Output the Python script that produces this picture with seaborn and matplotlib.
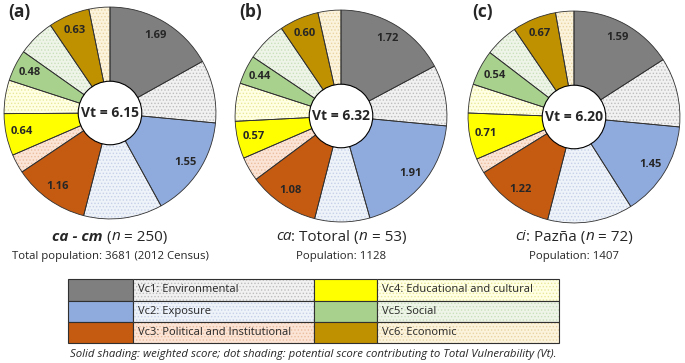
import numpy as np
import matplotlib
matplotlib.use("Agg")
import matplotlib.pyplot as plt
from matplotlib.patches import Rectangle, Circle
import seaborn as sns

# component names
components = ["Vc1: Environmental", "Vc2: Exposure", "Vc3: Political and Institutional",
              "Vc4: Educational and cultural", "Vc5: Social", "Vc6: Economic"]
# potential (max) score of each component, sums to 10
potential = [2.65, 2.75, 1.45, 1.15, 1.05, 0.95]
# weighted scores per community
scores_a = [1.69, 1.55, 1.16, 0.64, 0.48, 0.63]
scores_b = [1.72, 1.91, 1.08, 0.57, 0.44, 0.60]
scores_c = [1.59, 1.45, 1.22, 0.71, 0.54, 0.67]
vt = ["6.15", "6.32", "6.20"]
panel_tags = ["(a)", "(b)", "(c)"]
populations = ["Total population: 3681 (2012 Census)", "Population: 1128", "Population: 1407"]

solid_cols = sns.color_palette(["#7f7f7f", "#8faadc", "#c55a11", "#ffff00", "#a9d18e", "#bf9000"])
light_cols = ["#f1f1f1", "#eef2f9", "#fbe4d5", "#ffffe3", "#eef5e8", "#fcf3dc"]
dot_cols = ["#bdbdbd", "#c6d2e8", "#ebbd9f", "#e8e89c", "#c9dfba", "#e8d5a2"]

sns.set_style("white")
plt.rcParams["font.family"] = ["Open Sans", "DejaVu Sans"]
plt.rcParams["hatch.linewidth"] = 0.6

W, H = 685, 363
fig = plt.figure(figsize=(W / 100, H / 100), dpi=100)
base = fig.add_axes([0, 0, 1, 1])
base.set_xlim(0, W)
base.set_ylim(H, 0)
base.axis("off")

centers = [(110, 113), (341, 116), (574, 117)]
R = 107
edge = "#303030"


def draw_pie(cx, cy, scores, vt_txt):
    ax = fig.add_axes([(cx - R) / W, 1 - (cy + R) / H, 2 * R / W, 2 * R / H])
    vals, fcs, ecs, hatches = [], [], [], []
    for i in range(6):
        vals += [scores[i], potential[i] - scores[i]]
        fcs += [solid_cols[i], light_cols[i]]
        ecs += [solid_cols[i], dot_cols[i]]
        hatches += [None, "....."]
    wedges, _ = ax.pie(vals, colors=fcs, startangle=90, counterclock=False,
                       radius=1, wedgeprops=dict(linewidth=0))
    for w, ec, h in zip(wedges, ecs, hatches):
        if h:
            w.set_edgecolor(ec)
            w.set_hatch(h)
            w.set_linewidth(0)
    ax.pie(vals, startangle=90, counterclock=False, radius=1,
           wedgeprops=dict(fill=False, edgecolor=edge, linewidth=0.6))
    for i in range(6):
        w = wedges[2 * i]
        mid = np.deg2rad((w.theta1 + w.theta2) / 2)
        ax.text(0.85 * np.cos(mid), 0.85 * np.sin(mid), f"{scores[i]:.2f}",
                ha="center", va="center", fontsize=8, fontweight="bold")
    ax.add_patch(Circle((0, 0), 0.3, facecolor="white", edgecolor="black", linewidth=0.8, zorder=5))
    ax.text(0, 0, f"Vt = {vt_txt}", ha="center", va="center", fontsize=10,
            fontweight="bold", zorder=6)
    ax.set_xlim(-1.01, 1.01)
    ax.set_ylim(-1.01, 1.01)


for (cx, cy), sc, v in zip(centers, [scores_a, scores_b, scores_c], vt):
    draw_pie(cx, cy, sc, v)

for (cx, cy), tag in zip(centers, panel_tags):
    base.text(cx - 102, 12, tag, ha="left", va="center", fontsize=12.5, fontweight="bold")

renderer = fig.canvas.get_renderer()


def runs(xc, y, parts, size):
    # draw a line made of differently styled pieces, centred on xc
    texts = []
    for s, style, weight in parts:
        t = base.text(0, y, s, fontsize=size, style=style, fontweight=weight,
                      ha="left", va="center")
        texts.append(t)
    widths = [t.get_window_extent(renderer).width for t in texts]
    x = xc - sum(widths) / 2
    for t, w in zip(texts, widths):
        t.set_x(x)
        x += w


subtitles = [
    [("ca - cm", "italic", "bold"), (" (", "normal", "normal"), ("n", "italic", "normal"), (" = 250)", "normal", "normal")],
    [("ca", "italic", "normal"), (": Totoral (", "normal", "normal"), ("n", "italic", "normal"), (" = 53)", "normal", "normal")],
    [("ci", "italic", "normal"), (": Pazña (", "normal", "normal"), ("n", "italic", "normal"), (" = 72)", "normal", "normal")],
]
for (cx, cy), sub, pop in zip(centers, subtitles, populations):
    runs(cx, 237, sub, 11)
    base.text(cx, 256, pop, ha="center", va="center", fontsize=8.2)

# legend table
rows_y = [279, 300.5, 322, 343]
cols_x = [(68, 133, 314), (314, 377, 559)]
for k in range(6):
    c = k // 3
    r = k % 3
    x0, x1, x2 = cols_x[c]
    y0, y1 = rows_y[r], rows_y[r + 1]
    base.add_patch(Rectangle((x0, y0), x1 - x0, y1 - y0, facecolor=solid_cols[k],
                             edgecolor=edge, linewidth=0.8))
    base.add_patch(Rectangle((x1, y0), x2 - x1, y1 - y0, facecolor=light_cols[k],
                             edgecolor=dot_cols[k], hatch=".....", linewidth=0))
    base.add_patch(Rectangle((x1, y0), x2 - x1, y1 - y0, fill=False,
                             edgecolor=edge, linewidth=0.8))
    base.text(x1 + 5, (y0 + y1) / 2, components[k], ha="left", va="center", fontsize=8)

base.text(313, 354, "Solid shading: weighted score; dot shading: potential score contributing to Total Vulnerability (Vt).",
          ha="center", va="center", fontsize=8.2, style="italic")

fig.savefig("out.png", dpi=100)
